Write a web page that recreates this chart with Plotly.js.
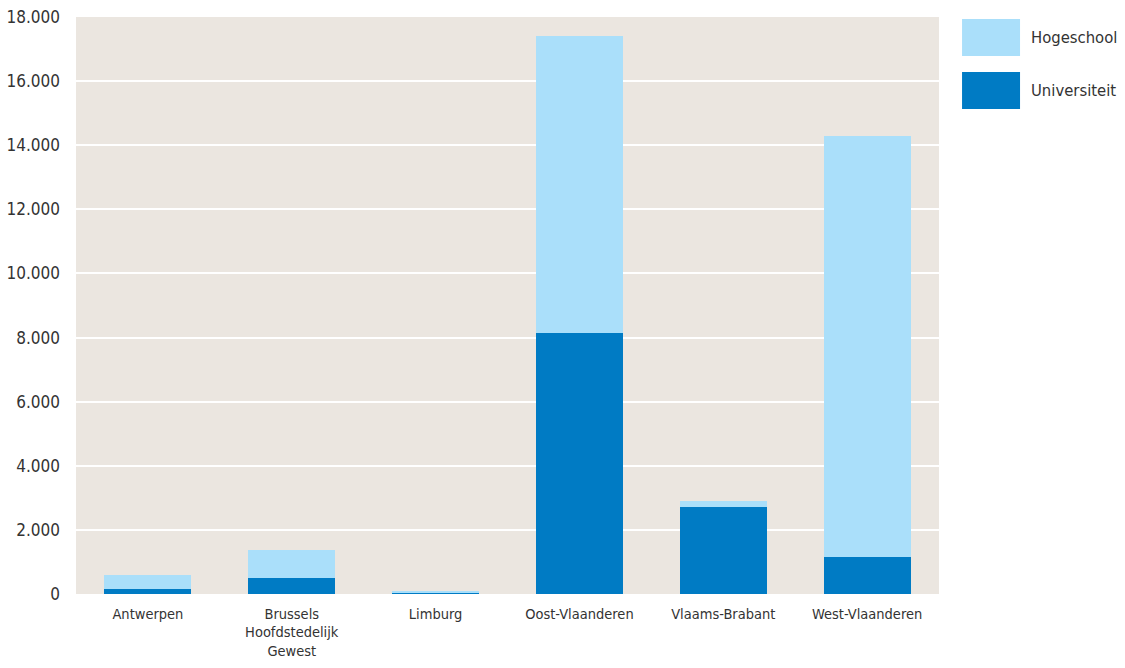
<!DOCTYPE html>
<html>
<head>
<meta charset="utf-8">
<script src="https://cdn.plot.ly/plotly-3.0.1.min.js"></script>
<style>html,body{margin:0;padding:0;background:#fff;}#chart{width:1125px;height:668px;}
#chart svg text{font-stretch:condensed;}</style>
</head>
<body>
<div id="chart"></div>
<script>
var categories = ["Antwerpen", "Brussels<br>Hoofdstedelijk<br>Gewest", "Limburg", "Oost-Vlaanderen", "Vlaams-Brabant", "West-Vlaanderen"];
var universiteit = [150, 500, 40, 8140, 2710, 1150];
var hogeschool = [440, 870, 60, 9260, 190, 13140];
var seriesNames = ["Hogeschool", "Universiteit"];
var seriesColors = ["#AADFFA", "#007BC4"];
var yTicks = [0, 2000, 4000, 6000, 8000, 10000, 12000, 14000, 16000, 18000];

var font = "'DejaVu Sans Condensed', 'DejaVu Sans', sans-serif";

var data = [
  {type: 'bar', x: categories, y: universiteit, name: seriesNames[1], marker: {color: seriesColors[1]}, showlegend: false, hoverinfo: 'y'},
  {type: 'bar', x: categories, y: hogeschool, name: seriesNames[0], marker: {color: seriesColors[0]}, showlegend: false, hoverinfo: 'y'}
];

// custom legend keys (large swatches as in the reference)
var shapes = [];
var annotations = [];
seriesNames.forEach(function(n, i){
  var yTop = 0.9965 - i * 0.0918;
  shapes.push({type: 'rect', xref: 'paper', yref: 'paper', x0: 1.0267, x1: 1.0939, y0: yTop - 0.0641, y1: yTop, fillcolor: seriesColors[i], line: {width: 0}});
  annotations.push({xref: 'paper', yref: 'paper', x: 1.104, y: yTop - 0.032, xanchor: 'left', yanchor: 'middle', text: n, showarrow: false, font: {family: font, size: 16.5, color: '#333333'}});
});

var layout = {
  width: 1125, height: 668,
  margin: {l: 76, r: 186, t: 17, b: 74},
  paper_bgcolor: '#ffffff',
  plot_bgcolor: '#EBE6E0',
  barmode: 'stack',
  bargap: 0.395,
  separators: ',.',
  font: {family: font, color: '#333333'},
  xaxis: {
    type: 'category',
    showgrid: false, zeroline: false, showline: false,
    ticks: '', tickfont: {family: font, size: 14.5, color: '#333333'},
    ticklabelstandoff: 9
  },
  yaxis: {
    range: [0, 18000],
    tickvals: yTicks,
    tickformat: ',d',
    showgrid: true, gridcolor: '#ffffff', gridwidth: 2,
    zeroline: false, showline: false, ticks: '',
    tickfont: {family: font, size: 17, color: '#333333'},
    ticklabelstandoff: 15
  },
  shapes: shapes,
  annotations: annotations
};

Plotly.newPlot('chart', data, layout, {displayModeBar: false, staticPlot: true});
</script>
</body>
</html>
